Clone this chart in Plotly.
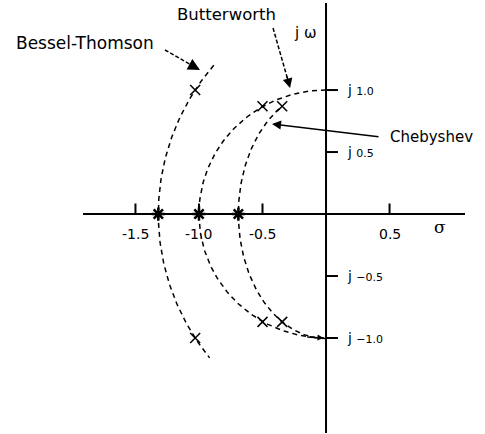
import numpy as np
import plotly.graph_objects as go

# Pole locations (sigma, omega) for third-order low-pass prototypes
bessel_real = [-1.32]
bessel_cplx_re = [-1.03, -1.03]
bessel_cplx_im = [1.0, -1.0]

butter_real = [-1.0]
butter_cplx_re = [-0.5, -0.5]
butter_cplx_im = [0.87, -0.87]

cheby_real = [-0.69]
cheby_cplx_re = [-0.345, -0.345]
cheby_cplx_im = [0.87, -0.87]

# Axis ticks and labels
x_ticks = [-1.5, -1.0, -0.5, 0.5]
x_tick_labels = ["-1.5", "-1.0", "-0.5", "0.5"]
y_ticks = [1.0, 0.5, -0.5, -1.0]
y_tick_labels = ["1.0", "0.5", "\u22120.5", "\u22121.0"]

X_RANGE = [-1.913, 1.094]
Y_RANGE = [-1.766, 1.702]

BLACK = "#000000"
DASH = "5px,4px"

fig = go.Figure()

# --- pole loci -------------------------------------------------------------
# Bessel-Thomson: circular arc (centre on the real axis) through its poles
br = bessel_real[0]
bx, by = bessel_cplx_re[0], bessel_cplx_im[0]
c = (bx**2 + by**2 - br**2) / (2 * (bx - br))
R = abs(br - c)
t_top = np.arcsin(1.2 / R)
t_bot = np.arcsin(-1.16 / R)
t = np.linspace(t_top, t_bot, 120)
fig.add_trace(go.Scatter(x=c - R * np.cos(t), y=R * np.sin(t), mode="lines",
                         line=dict(color=BLACK, width=1.5, dash=DASH),
                         hoverinfo="skip", showlegend=False))

# Butterworth: circle of radius |real pole|
rb = abs(butter_real[0])
t = np.linspace(np.pi / 2, 3 * np.pi / 2, 160)
fig.add_trace(go.Scatter(x=rb * np.cos(t), y=rb * np.sin(t), mode="lines",
                         line=dict(color=BLACK, width=1.5, dash=DASH),
                         hoverinfo="skip", showlegend=False))

# Chebyshev: ellipse through the real and complex poles
a = abs(cheby_real[0])
cx, cy = cheby_cplx_re[0], cheby_cplx_im[0]
b = cy / np.sqrt(1 - (cx / a) ** 2)
t_end = np.arccos(abs(cx) / a)
t = np.linspace(-np.pi / 2, t_end, 140)
fig.add_trace(go.Scatter(x=-a * np.cos(t), y=b * np.sin(t), mode="lines",
                         line=dict(color=BLACK, width=1.5, dash=DASH),
                         hoverinfo="skip", showlegend=False))

# --- axes ------------------------------------------------------------------
fig.add_trace(go.Scatter(x=X_RANGE, y=[0, 0], mode="lines",
                         line=dict(color=BLACK, width=2), hoverinfo="skip",
                         showlegend=False, cliponaxis=False))
fig.add_trace(go.Scatter(x=[0, 0], y=Y_RANGE, mode="lines",
                         line=dict(color=BLACK, width=2), hoverinfo="skip",
                         showlegend=False, cliponaxis=False))

tx, ty = [], []
for v in x_ticks:
    tx += [v, v, None]
    ty += [0, 0.085, None]
for v in y_ticks:
    tx += [0, 0.094, None]
    ty += [v, v, None]
fig.add_trace(go.Scatter(x=tx, y=ty, mode="lines", line=dict(color=BLACK, width=2),
                         hoverinfo="skip", showlegend=False))

# Dashed shafts of the Bessel-Thomson and Butterworth pointers
fig.add_trace(go.Scatter(x=[-1.268, -1.05, None, -0.417, -0.30],
                         y=[1.323, 1.196, None, 1.50, 1.08], mode="lines",
                         line=dict(color=BLACK, width=1.5, dash="4px,2px"),
                         hoverinfo="skip", showlegend=False))

# --- poles -------------------------------------------------------------------
reals = bessel_real + butter_real + cheby_real
fig.add_trace(go.Scatter(x=reals, y=[0] * len(reals), mode="markers",
                         marker=dict(symbol="asterisk-open", size=11, color=BLACK,
                                     line=dict(color=BLACK, width=2.5)),
                         showlegend=False))
cre = bessel_cplx_re + butter_cplx_re + cheby_cplx_re
cim = bessel_cplx_im + butter_cplx_im + cheby_cplx_im
fig.add_trace(go.Scatter(x=cre, y=cim, mode="markers",
                         marker=dict(symbol="x-thin-open", size=10, color=BLACK,
                                     line=dict(color=BLACK, width=1.5)),
                         showlegend=False))

# --- text --------------------------------------------------------------------
FONT = "DejaVu Sans"
ann = []
for v, s in zip(x_ticks, x_tick_labels):
    ann.append(dict(x=v, y=-0.16, text=s, showarrow=False,
                    font=dict(family=FONT, size=14, color=BLACK)))
for v, s in zip(y_ticks, y_tick_labels):
    ann.append(dict(x=0.15, y=v, text="j <span style='font-size:11px'>" + s + "</span>",
                    xanchor="left", showarrow=False,
                    font=dict(family=FONT, size=14, color=BLACK)))

ann += [
    dict(x=-1.898, y=1.379, text="Bessel-Thomson", showarrow=False,
         font=dict(family=FONT, size=17, color=BLACK)),
    dict(x=-0.78, y=1.613, text="Butterworth", showarrow=False,
         font=dict(family=FONT, size=16.5, color=BLACK)),
    dict(x=0.488, y=0.621, text="Chebyshev", xanchor="left", showarrow=False,
         font=dict(family=FONT, size=15, color=BLACK)),
    dict(x=-0.165, y=1.46, text="j \u03c9", showarrow=False,
         font=dict(family=FONT, size=15, color=BLACK)),
    dict(x=0.898, y=-0.105, text="\u03c3", showarrow=False,
         font=dict(family="DejaVu Serif", size=17, color=BLACK)),
]

# Pointer arrowheads
arrows = [
    ((-1.08, 1.210), (-0.992, 1.161), 1.6),
    ((-0.31, 1.12), (-0.283, 1.016), 1.3),
    ((0.425, 0.621), (-0.425, 0.726), 1.2),
    ((-0.16, -0.99), (-0.02, -1.0), 0.8),
]
for (tx0, ty0), (hx, hy), sz in arrows:
    ann.append(dict(x=hx, y=hy, ax=tx0, ay=ty0, xref="x", yref="y",
                    axref="x", ayref="y", text="", showarrow=True,
                    arrowhead=2, arrowsize=sz, arrowwidth=1.5, arrowcolor=BLACK))

fig.update_layout(
    width=485, height=434,
    margin=dict(l=83, r=20, t=3, b=1),
    paper_bgcolor="white", plot_bgcolor="white",
    xaxis=dict(range=X_RANGE, visible=False, fixedrange=True),
    yaxis=dict(range=Y_RANGE, visible=False, fixedrange=True),
    annotations=ann,
)

fig.write_html("out.html")
